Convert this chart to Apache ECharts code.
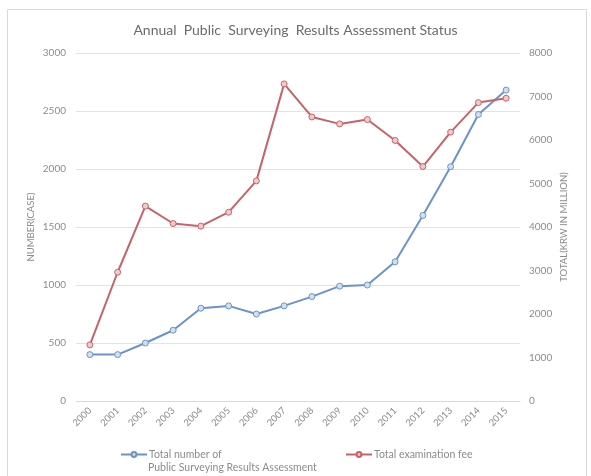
<!DOCTYPE html>
<html>
<head>
<meta charset="utf-8">
<script src="https://cdn.jsdelivr.net/npm/echarts@6/dist/echarts.min.js"></script>
<style>
  html, body { margin: 0; padding: 0; background: #fff; }
  #main { width: 591px; height: 476px; }
</style>
</head>
<body>
<div id="main"></div>
<script>
// data
const years = ['2000', '2001', '2002', '2003', '2004', '2005', '2006', '2007',
  '2008', '2009', '2010', '2011', '2012', '2013', '2014', '2015']
const caseCount = [400, 400, 500, 610, 800, 820, 750, 820, 900, 990, 1000, 1200, 1600, 2020, 2470, 2680]
const examFee = [1290, 2960, 4480, 4080, 4020, 4340, 5060, 7290, 6530, 6370, 6470, 5990, 5390, 6180, 6860, 6960]

const blueName = 'Total number of\nPublic Surveying Results Assessment'
const redName = 'Total examination fee'

const font = 'Lato'
const gray = '#8c8c8c'

let chart = echarts.init(document.getElementById('main'))

// legend shows only the first line, second line of the blue name sits under it
let legendStyle = {
  top: 444,
  itemWidth: 26,
  itemHeight: 6,
  itemGap: 2,
  formatter: name => name.split('\n')[0],
  textStyle: { fontFamily: font, fontSize: 10.5, color: gray, padding: [0, 0, 0, -3] }
}

let option = {
  animation: false,
  textStyle: { fontFamily: font },
  title: {
    text: 'Annual  Public  Surveying  Results Assessment Status',
    left: 'center',
    top: 18,
    textStyle: { fontFamily: font, fontSize: 14, fontWeight: 'normal', color: '#6b6b6b' }
  },
  graphic: [{
    type: 'rect',
    shape: { x: 7.5, y: 9.5, width: 579, height: 470 },
    style: { fill: 'none', stroke: '#d9d9d9', lineWidth: 1 },
    silent: true
  }, {
    type: 'text',
    left: 148,
    top: 462,
    style: {
      text: blueName.split('\n')[1],
      fill: gray,
      font: '10.5px ' + font
    },
    silent: true
  }],
  legend: [
    Object.assign({ left: 115, data: [blueName] }, legendStyle),
    Object.assign({ left: 340, data: [redName] }, legendStyle)
  ],
  grid: {
    left: 76,
    right: 71,
    top: 53,
    bottom: 75
  },
  xAxis: {
    type: 'category',
    data: years,
    boundaryGap: true,
    axisLine: { show: true, lineStyle: { color: '#d9d9d9' } },
    axisTick: { show: false },
    axisLabel: { rotate: 45, fontSize: 9.5, color: gray, margin: 8 }
  },
  yAxis: [{
    type: 'value',
    min: 0,
    max: 3000,
    interval: 500,
    name: 'NUMBER(CASE)',
    nameLocation: 'middle',
    nameRotate: 90,
    nameGap: 40,
    nameMoveOverlap: false,
    nameTextStyle: { fontSize: 9.5, color: gray },
    axisLine: { show: false },
    axisTick: { show: false },
    axisLabel: { fontSize: 10, color: gray, margin: 10, formatter: v => String(v) },
    splitLine: { lineStyle: { color: '#e3e3e3' } }
  }, {
    type: 'value',
    min: 0,
    max: 8000,
    interval: 1000,
    name: 'TOTAL(KRW IN MILLION)',
    nameLocation: 'middle',
    nameRotate: 90,
    nameGap: 39,
    nameMoveOverlap: false,
    nameTextStyle: { fontSize: 9.5, color: gray },
    axisLine: { show: false },
    axisTick: { show: false },
    axisLabel: { fontSize: 10, color: gray, margin: 9, formatter: v => String(v) },
    splitLine: { show: false }
  }],
  series: [{
    name: blueName,
    type: 'line',
    yAxisIndex: 0,
    data: caseCount,
    symbol: 'circle',
    symbolSize: 6,
    lineStyle: { color: '#6b93c9', width: 2 },
    itemStyle: { color: '#cfe0f3', borderColor: '#6b93c9', borderWidth: 1 }
  }, {
    name: redName,
    type: 'line',
    yAxisIndex: 1,
    data: examFee,
    symbol: 'circle',
    symbolSize: 6,
    lineStyle: { color: '#c8626a', width: 2 },
    itemStyle: { color: '#f2c9cb', borderColor: '#c8626a', borderWidth: 1 }
  }]
}

chart.setOption(option)
</script>
</body>
</html>
